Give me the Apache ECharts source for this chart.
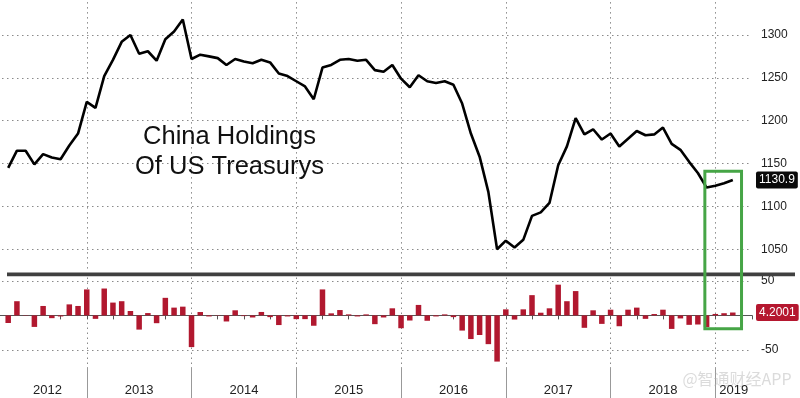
<!DOCTYPE html>
<html><head><meta charset="utf-8">
<script src="https://cdn.jsdelivr.net/npm/echarts@6/dist/echarts.min.js"></script>
<style>html,body{margin:0;padding:0;background:#fff}#c{width:800px;height:398px}</style>
</head><body><div id="c"></div>
<script>
// First observation: end of March 2012, monthly to end of Feb 2019
const startMonth = 3; // months counted from 1 Jan 2012, month-end position
const yearLabels = ['2012','2013','2014','2015','2016','2017','2018','2019'];
const topTickLabels = [1050, 1100, 1150, 1200, 1250, 1300];
const bottomTickLabels = [-50, 50];

const holdings = [
  1145,1165,1165,1149,1161,1157,1155,1171,1185,1222,
  1215,1252,1271,1292,1300,1278,1281,1270,1295,1304,1318,1272,
  1277,1275,1273,1265,1272,1269,1267,1271,1268,1255,1252,1246,
  1240,1225,1262,1265,1271,1272,1270,1271,1259,1257,1265,1249,
  1239,1253,1246,1244,1246,1242,1220,1185,1158,1117,1050,1060,
  1052,1061,1089,1093,1104,1148,1170,1203,1184,1190,1178,1185,
  1170,1179,1188,1183,1184,1192,1173,1166,1152,1139,1122,1124,
  1127,1130.9
];
const changes = [
  -11,20.6,0.5,-16.7,13.7,-4,-1.5,16,13.7,37.7,
  -5,39,18.6,20.6,6.4,-20.6,3.4,-11.3,25.5,11.3,12.7,-46,
  4.9,-1.5,-0.5,-8.8,7.4,-1,-3,5,-2.5,-14,-1.5,-5.4,
  -5.4,-15,37.7,3,7.8,1.5,-1.5,1.5,-12.7,-3,10.3,-18.6,
  -7.4,15.2,-7.8,-1.5,1.5,-2.5,-22,-34.3,-28.4,-41.7,-67,8.8,
  -6,8.8,29.4,3.9,10.3,44.6,20.6,35.3,-18,7.4,-12.3,8.3,
  -15.7,8.3,11.3,-5,2,8.3,-19.6,-4.4,-13.7,-13.2,-17,2.1,
  3.2,4.2001
];
// annotation box (green) in data units
const highlight = {x0: 82.8, x1: 87.0, top: 1141, bottom: -19.5};

const FONT = '"Liberation Sans Narrow","Liberation Sans",Arial,sans-serif';
const GRID = '#8a8a8a';
const X_MIN = 0, X_MAX = 88.2;
const lineData = holdings.map((v, i) => [startMonth + i, v]);
const barData = changes.map((v, i) => [startMonth + i, v]);
const lastH = holdings[holdings.length - 1];
const lastC = changes[changes.length - 1];

const yearLine = [GRID, 'transparent', 'transparent', 'transparent'];
function xAx(grid, extra) {
  return Object.assign({
    gridIndex: grid, type: 'value', min: X_MIN, max: X_MAX, interval: 3,
    axisLine: {show: false}, axisTick: {show: false}, axisLabel: {show: false},
    splitLine: {show: true, lineStyle: {color: yearLine, type: [1.5, 3.5], width: 1}}
  }, extra || {});
}
function tag(value, bg) {
  return {silent: true, symbol: 'none', lineStyle: {color: 'transparent', width: 0},
    label: {show: true, position: 'end', distance: 4, formatter: String(value),
            backgroundColor: bg, color: '#fff', padding: [3, 3, 2, 3], borderRadius: 2,
            fontFamily: FONT, fontSize: 12},
    data: [{yAxis: value}]};
}

const chart = echarts.init(document.getElementById('c'), null, {renderer: 'canvas'});
const gridBase = {left: -18, right: 48, outerBoundsMode: 'none', containLabel: false};
chart.setOption({
  animation: false,
  backgroundColor: '#fff',
  grid: [
    Object.assign({top: -7.9, height: 278.6}, gridBase),
    Object.assign({top: 277.5, height: 89.6}, gridBase),
    Object.assign({top: 367.1, height: 30.9}, gridBase)
  ],
  xAxis: [
    xAx(0),
    xAx(1, {axisLine: {show: true, lineStyle: {color: '#555', width: 1}},
            axisTick: {show: true, length: 4, lineStyle: {color: '#555'}}}),
    xAx(2, {splitLine: {show: true, lineStyle: {color: ['#999', 'transparent', 'transparent', 'transparent'], type: 'solid', width: 1}}})
  ],
  yAxis: [
    {gridIndex: 0, type: 'value', position: 'right', min: 1025, max: 1350, interval: 25,
     axisLine: {show: true, lineStyle: {color: '#333'}},
     axisTick: {show: true, length: 5, lineStyle: {color: '#333'}},
     axisLabel: {margin: 9, fontFamily: FONT, fontSize: 12, color: '#222',
                 formatter: v => topTickLabels.includes(v) ? String(v) : ''},
     splitLine: {show: true, lineStyle: {color: ['transparent', GRID], type: [1.5, 3.5]}}},
    {gridIndex: 1, type: 'value', position: 'right', min: -75, max: 55, interval: 25,
     axisLine: {show: true, lineStyle: {color: '#333'}},
     axisTick: {show: true, length: 5, lineStyle: {color: '#333'}},
     axisLabel: {margin: 9, fontFamily: FONT, fontSize: 12, color: '#222',
                 formatter: v => bottomTickLabels.includes(v) ? String(v) : ''},
     splitLine: {show: true, lineStyle: {color: ['transparent', GRID], type: [1.5, 3.5]}}},
    {gridIndex: 2, type: 'value', min: 0, max: 1, show: false}
  ],
  series: [
    {type: 'line', xAxisIndex: 0, yAxisIndex: 0, data: lineData, symbol: 'none', showSymbol: false,
     lineStyle: {color: '#000', width: 2.6}, z: 5, markLine: tag(lastH, '#0a0a0a')},
    {type: 'bar', xAxisIndex: 1, yAxisIndex: 1, data: barData, barWidth: 5.5,
     itemStyle: {color: '#b1182f'}, z: 5, markLine: tag(lastC, '#b5172f')}
  ]
});

// annotations positioned via the chart's own scales
const g = [];
g.push({type: 'text', x: 229.5, y: 122, z: 10,
  style: {text: 'China Holdings\nOf US Treasurys', font: '25.5px "Liberation Sans", Arial, sans-serif',
          fill: '#111', textAlign: 'center', textVerticalAlign: 'top', lineHeight: 30}});
g.push({type: 'rect', z: 9, shape: {x: 7, y: 272.6, width: 788, height: 3.6}, style: {fill: '#404040'}});
g.push({type: 'text', z: 1, x: 737, y: 379,
  style: {text: '@智通财经APP', font: '16px "Noto Sans CJK SC", sans-serif', fill: 'rgba(175,175,175,0.45)',
          textAlign: 'center', textVerticalAlign: 'middle'}});
yearLabels.forEach((lab, k) => {
  const y0 = 12 * k, y1 = y0 + 12;
  const a = Math.max(y0, startMonth), b = Math.min(y1, X_MAX);
  const px = chart.convertToPixel({gridIndex: 2}, [(a + b) / 2, 0.25]);
  g.push({type: 'text', z: 10, x: px[0], y: px[1],
    style: {text: lab, font: '13px ' + FONT, fill: '#222', textAlign: 'center', textVerticalAlign: 'middle'}});
});
const p0 = chart.convertToPixel({gridIndex: 0}, [highlight.x0, highlight.top]);
const p1 = chart.convertToPixel({gridIndex: 1}, [highlight.x1, highlight.bottom]);
g.push({type: 'rect', z: 20, shape: {x: p0[0], y: p0[1], width: p1[0] - p0[0], height: p1[1] - p0[1]},
  style: {fill: 'none', stroke: '#46a546', lineWidth: 3}});
chart.setOption({graphic: g});
</script>
</body></html>
